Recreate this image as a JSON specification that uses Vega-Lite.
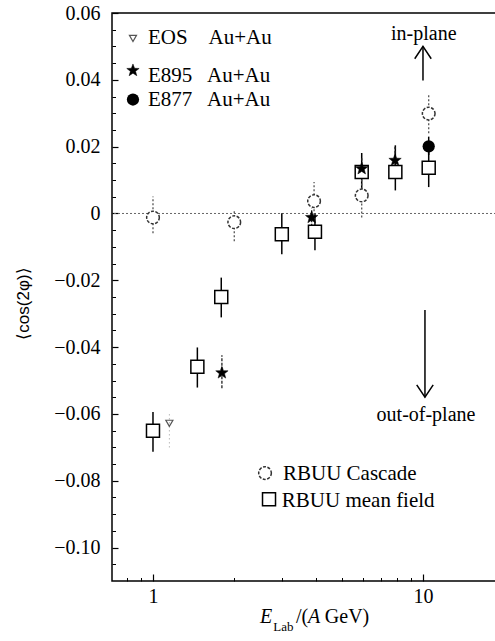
{
  "$schema": "https://vega.github.io/schema/vega-lite/v6.json",
  "width": 384,
  "height": 568,
  "autosize": "none",
  "padding": {"left": 112, "top": 13, "right": 0, "bottom": 60},
  "background": "white",
  "config": {
    "view": {"stroke": "black", "strokeWidth": 1.5},
    "font": "Liberation Serif"
  },
  "datasets": {
    "pts": [
      {"s": "mf", "kind": "d", "E": 1.0, "v": -0.0650, "lo": -0.0713, "hi": -0.0594},
      {"s": "mf", "kind": "d", "E": 1.46, "v": -0.0459, "lo": -0.0521, "hi": -0.0401},
      {"s": "mf", "kind": "d", "E": 1.79, "v": -0.0250, "lo": -0.0311, "hi": -0.0192},
      {"s": "mf", "kind": "d", "E": 3.0, "v": -0.0062, "lo": -0.0122, "hi": 0.0001},
      {"s": "mf", "kind": "d", "E": 3.98, "v": -0.0055, "lo": -0.0110, "hi": 0.0000},
      {"s": "mf", "kind": "d", "E": 5.93, "v": 0.0124, "lo": 0.0065, "hi": 0.0181},
      {"s": "mf", "kind": "d", "E": 7.9, "v": 0.0124, "lo": 0.0069, "hi": 0.0204},
      {"s": "mf", "kind": "d", "E": 10.5, "v": 0.0137, "lo": 0.0079, "hi": 0.0195},
      {"s": "casc", "kind": "d", "E": 1.0, "v": -0.0012, "lo": -0.0059, "hi": 0.0051},
      {"s": "casc", "kind": "d", "E": 2.0, "v": -0.0026, "lo": -0.0083, "hi": 0.0010},
      {"s": "casc", "kind": "d", "E": 3.95, "v": 0.0037, "lo": -0.0017, "hi": 0.0094},
      {"s": "casc", "kind": "d", "E": 5.93, "v": 0.0054, "lo": -0.0012, "hi": 0.0115},
      {"s": "casc", "kind": "d", "E": 10.5, "v": 0.0299, "lo": 0.0240, "hi": 0.0358},
      {"s": "e895", "kind": "d", "E": 1.8, "v": -0.0477, "lo": -0.0523, "hi": -0.0424},
      {"s": "e895", "kind": "d", "E": 3.87, "v": -0.0012, "lo": -0.0040, "hi": 0.0015},
      {"s": "e895", "kind": "d", "E": 5.93, "v": 0.0134, "lo": 0.0105, "hi": 0.0165},
      {"s": "e895", "kind": "d", "E": 7.88, "v": 0.0159, "lo": 0.0125, "hi": 0.0200},
      {"s": "e877", "kind": "d", "E": 10.5, "v": 0.0201, "lo": 0.0175, "hi": 0.0230},
      {"s": "eos", "kind": "d", "E": 1.15, "v": -0.0628, "lo": -0.0700, "hi": -0.0598},
      {"s": "eos", "kind": "l", "E": 0.843, "v": 0.0524},
      {"s": "e895", "kind": "l", "E": 0.843, "v": 0.0428},
      {"s": "e877", "kind": "l", "E": 0.843, "v": 0.0341},
      {"s": "casc", "kind": "l", "E": 2.60, "v": -0.0777},
      {"s": "mf", "kind": "l", "E": 2.69, "v": -0.0855}
    ],
    "notes": [
      {"role": "leg", "text": "EOS", "E": 0.958, "v": 0.0506},
      {"role": "leg", "text": "Au+Au", "E": 1.605, "v": 0.0506},
      {"role": "leg", "text": "E895", "E": 0.958, "v": 0.0393},
      {"role": "leg", "text": "Au+Au", "E": 1.585, "v": 0.0393},
      {"role": "leg", "text": "E877", "E": 0.958, "v": 0.0321},
      {"role": "leg", "text": "Au+Au", "E": 1.585, "v": 0.0321},
      {"role": "leg", "text": "RBUU Cascade", "E": 3.03, "v": -0.0798},
      {"role": "leg", "text": "RBUU mean field", "E": 3.0, "v": -0.0878},
      {"role": "ctr", "text": "in-plane", "E": 10.07, "v": 0.0518},
      {"role": "ctr", "text": "out-of-plane", "E": 10.26, "v": -0.0621},
      {"role": "ital", "text": "E", "E": 2.49, "v": -0.1225},
      {"role": "sub", "text": "Lab", "E": 2.79, "v": -0.1250},
      {"role": "plain", "text": "/(", "E": 3.385, "v": -0.1225},
      {"role": "ital", "text": "A", "E": 3.75, "v": -0.1225},
      {"role": "plain", "text": "GeV)", "E": 4.33, "v": -0.1225}
    ],
    "arrows": [
      {"dir": "up", "E": 10.0, "y1": 0.0398, "y2": 0.0500},
      {"dir": "down", "E": 10.17, "y1": -0.0289, "y2": -0.0550}
    ]
  },
  "layer": [
    {
      "data": {"values": [{}]},
      "mark": {"type": "rule", "strokeDash": [2, 2], "color": "#666", "strokeWidth": 1},
      "encoding": {
        "y": {"datum": 0, "type": "quantitative",
          "scale": {"domain": [-0.11, 0.06], "nice": false, "zero": false},
          "axis": {"orient": "left", "values": [-0.1, -0.08, -0.06, -0.04, -0.02, 0, 0.02, 0.04, 0.06],
            "labelExpr": "datum.value == 0 ? '0' : format(datum.value, '.2f')",
            "tickSize": -6, "tickColor": "black", "tickWidth": 1.2, "domain": false, "grid": false,
            "labelFont": "Liberation Serif", "labelFontSize": 20, "labelColor": "black", "labelPadding": 18,
            "labelOverlap": false,
            "title": "⟨cos(2φ)⟩", "titleFont": "Liberation Sans", "titleFontSize": 17, "titleFontWeight": "normal",
            "titleColor": "black", "titleX": -89, "titleY": 290, "titleBaseline": "middle", "titleAngle": 270, "titleAlign": "center"}}
      }
    },
    {
      "data": {"name": "pts"},
      "transform": [{"filter": "datum.kind == 'd' && datum.s == 'mf'"}],
      "mark": {"type": "rule", "color": "black", "strokeWidth": 1.5},
      "encoding": {
        "x": {"field": "E", "type": "quantitative",
          "scale": {"type": "log", "domain": [0.705, 18.64], "nice": false},
          "axis": {"orient": "bottom", "values": [1, 10], "labelExpr": "datum.value == 1 ? '1' : '10'",
            "tickSize": -7, "tickColor": "black", "tickWidth": 1.2, "domain": false, "grid": false,
            "labelFont": "Liberation Serif", "labelFontSize": 20, "labelColor": "black", "labelPadding": 12,
            "labelFlush": false, "title": null}},
        "y": {"field": "lo", "type": "quantitative", "scale": {"domain": [-0.11, 0.06], "nice": false, "zero": false}, "axis": null},
        "y2": {"field": "hi"}
      }
    },
    {
      "data": {"values": [{"E": 1, "v": 0}]},
      "mark": {"type": "point", "opacity": 0},
      "encoding": {
        "x": {"field": "E", "type": "quantitative",
          "scale": {"type": "log", "domain": [0.705, 18.64], "nice": false},
          "axis": {"orient": "top", "offset": -568, "values": [0.8, 0.9, 2, 3, 4, 5, 6, 7, 8, 9], "tickSize": 3.5,
            "tickColor": "black", "tickWidth": 1, "labels": false, "domain": false, "grid": false, "title": null}},
        "y": {"field": "v", "type": "quantitative",
          "scale": {"domain": [-0.11, 0.06], "nice": false, "zero": false},
          "axis": {"orient": "right", "offset": -384, "values": [-0.105, -0.095, -0.09, -0.085, -0.075, -0.07, -0.065, -0.055, -0.05, -0.045, -0.035, -0.03, -0.025, -0.015, -0.01, -0.005, 0.005, 0.01, 0.015, 0.025, 0.03, 0.035, 0.045, 0.05, 0.055],
            "tickSize": 3.5, "tickColor": "black", "tickWidth": 1, "labels": false, "domain": false, "grid": false, "title": null}}
      }
    },
    {
      "data": {"name": "pts"},
      "transform": [{"filter": "datum.kind == 'd' && datum.s == 'casc'"}],
      "mark": {"type": "rule", "color": "#555", "strokeWidth": 1.3, "strokeDash": [2, 2]},
      "encoding": {
        "x": {"field": "E", "type": "quantitative", "scale": {"type": "log", "domain": [0.705, 18.64], "nice": false}, "axis": null},
        "y": {"field": "lo", "type": "quantitative", "scale": {"domain": [-0.11, 0.06], "nice": false, "zero": false}, "axis": null},
        "y2": {"field": "hi"}
      }
    },
    {
      "data": {"name": "pts"},
      "transform": [{"filter": "datum.kind == 'd' && datum.s == 'e895'"}],
      "mark": {"type": "rule", "color": "#222", "strokeWidth": 1.3, "strokeDash": [3, 1.5]},
      "encoding": {
        "x": {"field": "E", "type": "quantitative", "scale": {"type": "log", "domain": [0.705, 18.64], "nice": false}, "axis": null},
        "y": {"field": "lo", "type": "quantitative", "scale": {"domain": [-0.11, 0.06], "nice": false, "zero": false}, "axis": null},
        "y2": {"field": "hi"}
      }
    },
    {
      "data": {"name": "pts"},
      "transform": [{"filter": "datum.kind == 'd' && datum.s == 'e877'"}],
      "mark": {"type": "rule", "color": "black", "strokeWidth": 1.5},
      "encoding": {
        "x": {"field": "E", "type": "quantitative", "scale": {"type": "log", "domain": [0.705, 18.64], "nice": false}, "axis": null},
        "y": {"field": "lo", "type": "quantitative", "scale": {"domain": [-0.11, 0.06], "nice": false, "zero": false}, "axis": null},
        "y2": {"field": "hi"}
      }
    },
    {
      "data": {"name": "pts"},
      "transform": [{"filter": "datum.kind == 'd' && datum.s == 'eos'"}],
      "mark": {"type": "rule", "color": "#999", "strokeWidth": 1, "strokeDash": [1, 3]},
      "encoding": {
        "x": {"field": "E", "type": "quantitative", "scale": {"type": "log", "domain": [0.705, 18.64], "nice": false}, "axis": null},
        "y": {"field": "lo", "type": "quantitative", "scale": {"domain": [-0.11, 0.06], "nice": false, "zero": false}, "axis": null},
        "y2": {"field": "hi"}
      }
    },
    {
      "data": {"name": "pts"},
      "transform": [{"filter": "datum.s == 'mf'"}],
      "mark": {"type": "point", "shape": "square", "filled": true, "fill": "white", "stroke": "black", "strokeWidth": 1.5, "size": 169, "opacity": 1},
      "encoding": {
        "x": {"field": "E", "type": "quantitative", "scale": {"type": "log", "domain": [0.705, 18.64], "nice": false}, "axis": null},
        "y": {"field": "v", "type": "quantitative", "scale": {"domain": [-0.11, 0.06], "nice": false, "zero": false}, "axis": null}
      }
    },
    {
      "data": {"name": "pts"},
      "transform": [{"filter": "datum.s == 'casc'"}],
      "mark": {"type": "point", "shape": "circle", "filled": true, "fill": "white", "stroke": "#333", "strokeWidth": 1.5, "strokeDash": [3, 1.5], "size": 160, "opacity": 1},
      "encoding": {
        "x": {"field": "E", "type": "quantitative", "scale": {"type": "log", "domain": [0.705, 18.64], "nice": false}, "axis": null},
        "y": {"field": "v", "type": "quantitative", "scale": {"domain": [-0.11, 0.06], "nice": false, "zero": false}, "axis": null}
      }
    },
    {
      "data": {"name": "pts"},
      "transform": [{"filter": "datum.s == 'e895'"}],
      "mark": {"type": "point", "shape": "M 0 -1 L 0.247 -0.34 L 0.951 -0.309 L 0.399 0.13 L 0.588 0.809 L 0 0.42 L -0.588 0.809 L -0.399 0.13 L -0.951 -0.309 L -0.247 -0.34 Z", "filled": true, "fill": "black", "stroke": "black", "strokeWidth": 0.5, "size": 169, "opacity": 1},
      "encoding": {
        "x": {"field": "E", "type": "quantitative", "scale": {"type": "log", "domain": [0.705, 18.64], "nice": false}, "axis": null},
        "y": {"field": "v", "type": "quantitative", "scale": {"domain": [-0.11, 0.06], "nice": false, "zero": false}, "axis": null}
      }
    },
    {
      "data": {"name": "pts"},
      "transform": [{"filter": "datum.s == 'e877'"}],
      "mark": {"type": "point", "shape": "circle", "filled": true, "fill": "black", "size": 150, "opacity": 1},
      "encoding": {
        "x": {"field": "E", "type": "quantitative", "scale": {"type": "log", "domain": [0.705, 18.64], "nice": false}, "axis": null},
        "y": {"field": "v", "type": "quantitative", "scale": {"domain": [-0.11, 0.06], "nice": false, "zero": false}, "axis": null}
      }
    },
    {
      "data": {"name": "pts"},
      "transform": [{"filter": "datum.s == 'eos'"}],
      "mark": {"type": "point", "shape": "triangle-down", "filled": false, "stroke": "#555", "strokeWidth": 1.2, "size": 50, "opacity": 1},
      "encoding": {
        "x": {"field": "E", "type": "quantitative", "scale": {"type": "log", "domain": [0.705, 18.64], "nice": false}, "axis": null},
        "y": {"field": "v", "type": "quantitative", "scale": {"domain": [-0.11, 0.06], "nice": false, "zero": false}, "axis": null}
      }
    },
    {
      "data": {"name": "arrows"},
      "mark": {"type": "rule", "color": "black", "strokeWidth": 1.5},
      "encoding": {
        "x": {"field": "E", "type": "quantitative", "scale": {"type": "log", "domain": [0.705, 18.64], "nice": false}, "axis": null},
        "y": {"field": "y1", "type": "quantitative", "scale": {"domain": [-0.11, 0.06], "nice": false, "zero": false}, "axis": null},
        "y2": {"field": "y2"}
      }
    },
    {
      "data": {"name": "arrows"},
      "mark": {"type": "point", "filled": false, "stroke": "black", "strokeWidth": 1.5, "size": 272, "opacity": 1},
      "encoding": {
        "x": {"field": "E", "type": "quantitative", "scale": {"type": "log", "domain": [0.705, 18.64], "nice": false}, "axis": null},
        "y": {"field": "y2", "type": "quantitative", "scale": {"domain": [-0.11, 0.06], "nice": false, "zero": false}, "axis": null},
        "shape": {"field": "dir", "type": "nominal", "legend": null,
          "scale": {"domain": ["up", "down"], "range": ["M -1 1.5 L 0 0 L 1 1.5", "M -1 -1.5 L 0 0 L 1 -1.5"]}}
      }
    },
    {
      "data": {"name": "notes"},
      "transform": [{"filter": "datum.role == 'leg'"}],
      "mark": {"type": "text", "align": "left", "baseline": "alphabetic", "font": "Liberation Serif", "fontSize": 21, "color": "black"},
      "encoding": {
        "x": {"field": "E", "type": "quantitative", "scale": {"type": "log", "domain": [0.705, 18.64], "nice": false}, "axis": null},
        "y": {"field": "v", "type": "quantitative", "scale": {"domain": [-0.11, 0.06], "nice": false, "zero": false}, "axis": null},
        "text": {"field": "text"}
      }
    },
    {
      "data": {"name": "notes"},
      "transform": [{"filter": "datum.role == 'ctr'"}],
      "mark": {"type": "text", "align": "center", "baseline": "alphabetic", "font": "Liberation Serif", "fontSize": 20, "color": "black"},
      "encoding": {
        "x": {"field": "E", "type": "quantitative", "scale": {"type": "log", "domain": [0.705, 18.64], "nice": false}, "axis": null},
        "y": {"field": "v", "type": "quantitative", "scale": {"domain": [-0.11, 0.06], "nice": false, "zero": false}, "axis": null},
        "text": {"field": "text"}
      }
    },
    {
      "data": {"name": "notes"},
      "transform": [{"filter": "datum.role == 'plain'"}],
      "mark": {"type": "text", "align": "left", "baseline": "alphabetic", "font": "Liberation Serif", "fontSize": 20, "color": "black"},
      "encoding": {
        "x": {"field": "E", "type": "quantitative", "scale": {"type": "log", "domain": [0.705, 18.64], "nice": false}, "axis": null},
        "y": {"field": "v", "type": "quantitative", "scale": {"domain": [-0.11, 0.06], "nice": false, "zero": false}, "axis": null},
        "text": {"field": "text"}
      }
    },
    {
      "data": {"name": "notes"},
      "transform": [{"filter": "datum.role == 'ital'"}],
      "mark": {"type": "text", "align": "left", "baseline": "alphabetic", "font": "Liberation Serif", "fontSize": 20, "fontStyle": "italic", "color": "black"},
      "encoding": {
        "x": {"field": "E", "type": "quantitative", "scale": {"type": "log", "domain": [0.705, 18.64], "nice": false}, "axis": null},
        "y": {"field": "v", "type": "quantitative", "scale": {"domain": [-0.11, 0.06], "nice": false, "zero": false}, "axis": null},
        "text": {"field": "text"}
      }
    },
    {
      "data": {"name": "notes"},
      "transform": [{"filter": "datum.role == 'sub'"}],
      "mark": {"type": "text", "align": "left", "baseline": "alphabetic", "font": "Liberation Serif", "fontSize": 13, "color": "black"},
      "encoding": {
        "x": {"field": "E", "type": "quantitative", "scale": {"type": "log", "domain": [0.705, 18.64], "nice": false}, "axis": null},
        "y": {"field": "v", "type": "quantitative", "scale": {"domain": [-0.11, 0.06], "nice": false, "zero": false}, "axis": null},
        "text": {"field": "text"}
      }
    }
  ],
  "resolve": {"axis": {"x": "independent", "y": "independent"}}
}
